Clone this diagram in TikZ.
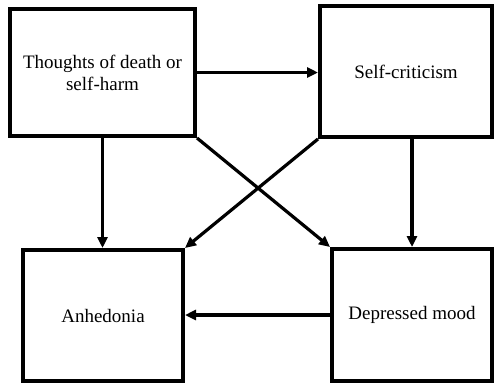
\documentclass[tikz,border=0pt]{standalone}
\usepackage{fontspec}
\setmainfont{Liberation Serif}
\usepackage{tikz}
\usetikzlibrary{arrows.meta}

\begin{document}
\begin{tikzpicture}[x=1pt,y=-1pt,
    box/.style={draw, rectangle, line width=4pt, align=center, font=\fontsize{19}{22}\selectfont},
    link/.style={line width=3.2pt, -{Triangle[length=11pt,width=10pt]}}]
  \useasboundingbox (0,0) rectangle (500,384);
  \draw (102.5, 72.5)node[box, minimum width=185pt, minimum height=127pt](thoughts){Thoughts of death or\\self-harm};
  \draw (406.0, 71.5)node[box, minimum width=172pt, minimum height=131pt](critic){Self-criticism};
  \draw (103.0, 315.5)node[box, minimum width=160pt, minimum height=131pt](anhed){Anhedonia};
  \draw (412.0, 315.0)node[box, minimum width=160pt, minimum height=132pt](mood){Depressed mood};
  \draw[link] (thoughts.east) -- (thoughts.east -| critic.west);
  \draw[link] (thoughts.south) -- (thoughts.south |- anhed.north);
  \draw[link] (mood.north |- critic.south) -- (mood.north);
  \draw[link] (mood.west) -- (mood.west -| anhed.east);
  \draw[link] (thoughts.south east) -- (mood.north west);
  \draw[link] (critic.south west) -- (anhed.north east);
\end{tikzpicture}
\end{document}
